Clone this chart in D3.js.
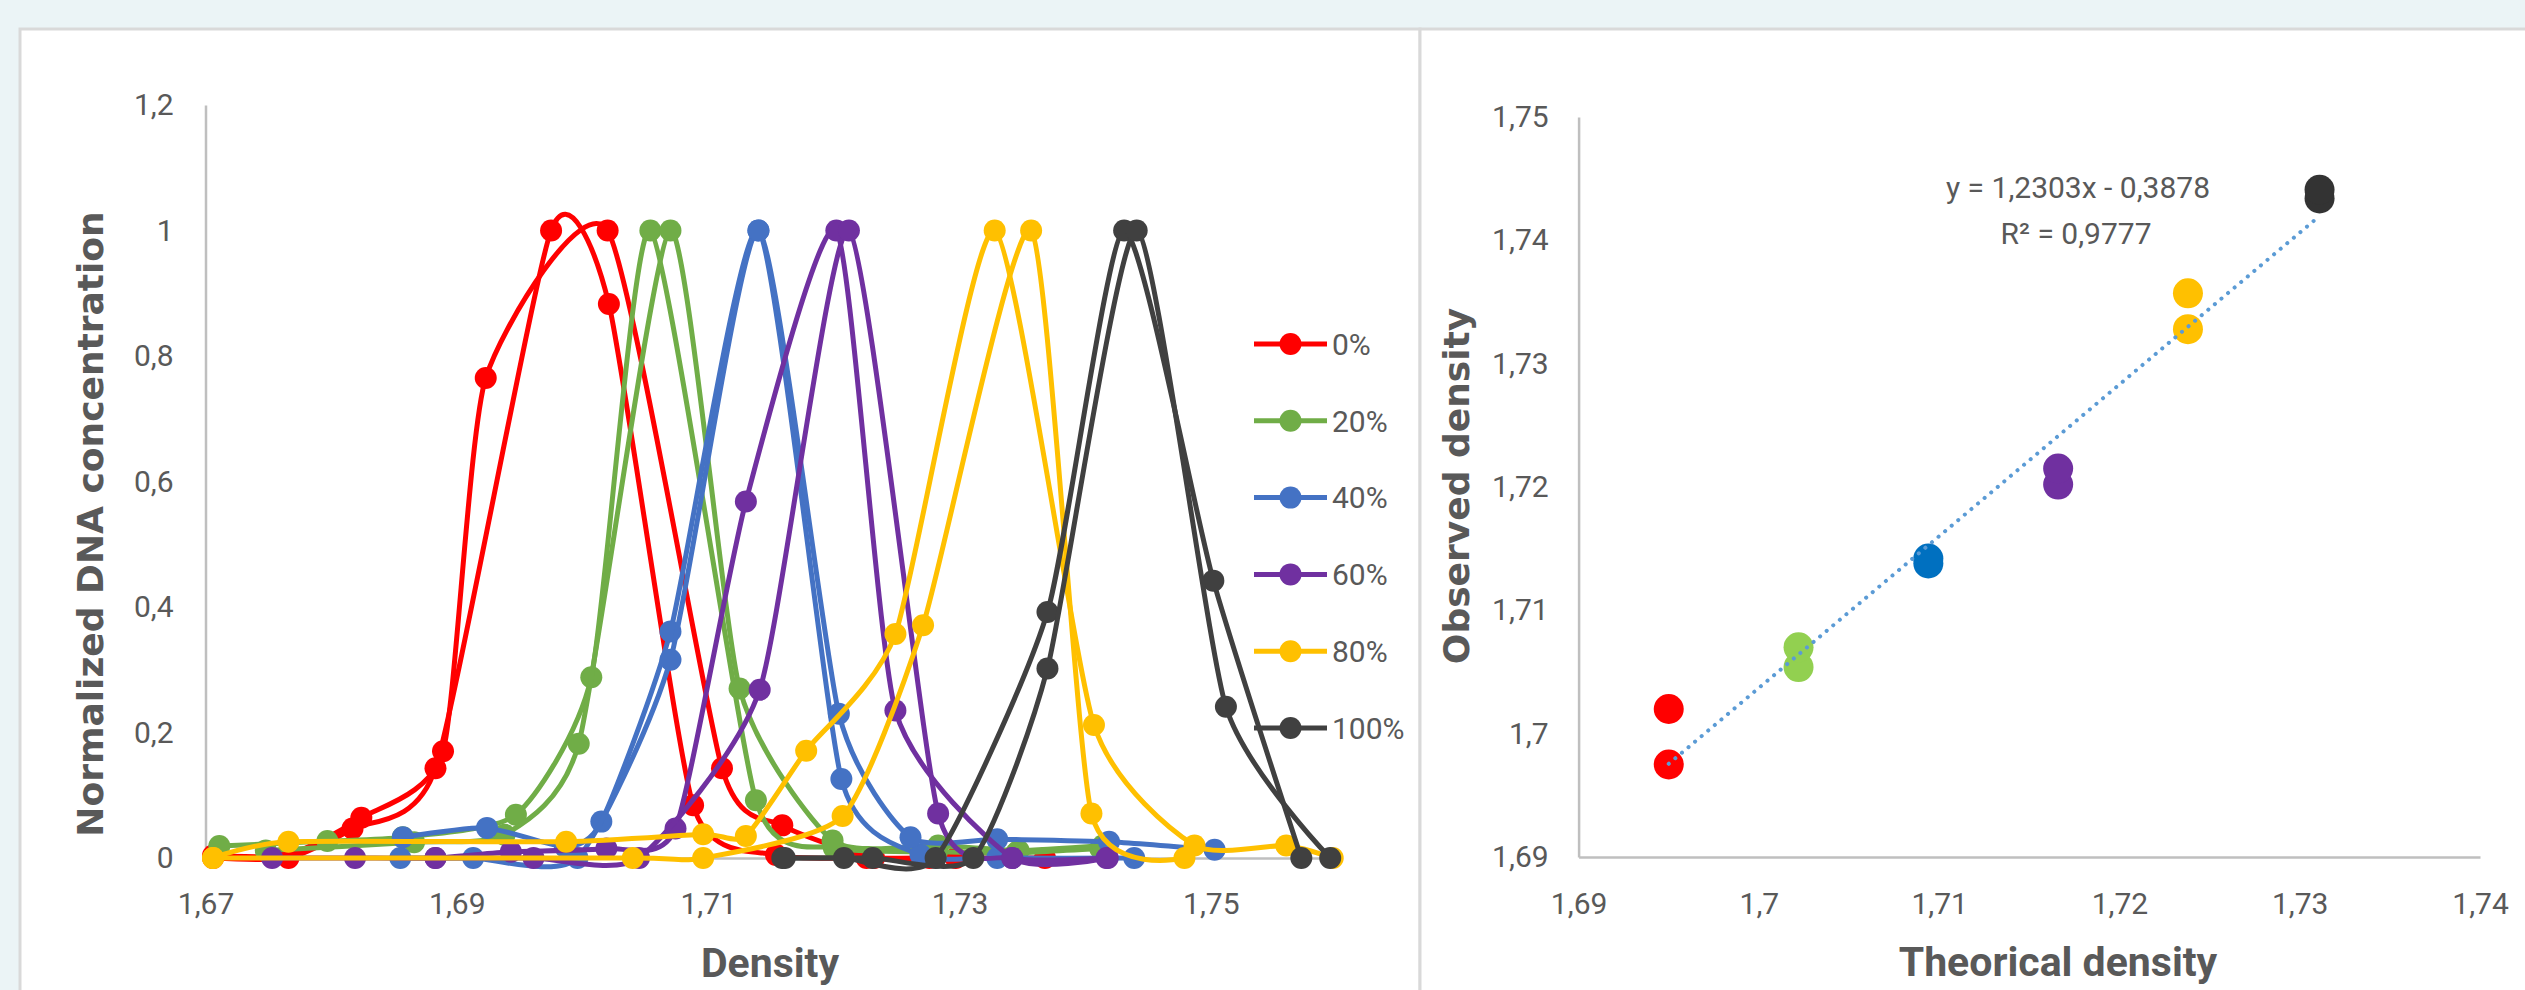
<!DOCTYPE html>
<html>
<head>
<meta charset="utf-8">
<script src="https://cdn.jsdelivr.net/npm/d3@7"></script>
<style>
  body { margin: 0; background: #ebf4f6; }
  svg { display: block; }
  .axis .tick text { fill: #595959; font-family: Roboto, "Liberation Sans", sans-serif; font-size: 30px; }
  .axis .domain { stroke: #bfbfbf; stroke-width: 2.5px; }
  .label { fill: #595959; font-family: Roboto, "Liberation Sans", sans-serif; }
  .title-x { font-weight: bold; font-size: 41px; }
  .title-y { font-family: "DejaVu Sans", Verdana, sans-serif; font-weight: bold; font-size: 36px; }
</style>
</head>
<body>
<svg id="chart" width="2525" height="990"></svg>
<script>
// ---- values ----
const gcLabels = ["0%", "20%", "40%", "60%", "80%", "100%"];

// two replicate gradients per GC content: [density, normalized DNA concentration]
const gc0RepA = [[1.6706, 0.004], [1.6766, 0.005], [1.6824, 0.064], [1.6889, 0.170], [1.6923, 0.765], [1.7020, 1.000], [1.7111, 0.143], [1.7159, 0.052], [1.7232, 0.000], [1.7297, 0.000], [1.7368, 0.000]];
const gc0RepB = [[1.6706, 0.000], [1.6766, 0.000], [1.6817, 0.047], [1.6883, 0.143], [1.6975, 1.000], [1.7021, 0.883], [1.7088, 0.084], [1.7154, 0.005], [1.7226, 0.000], [1.7276, 0.000]];
const gc20RepA = [[1.6711, 0.019], [1.6797, 0.027], [1.6857, 0.033], [1.6947, 0.069], [1.7007, 0.288], [1.7054, 1.000], [1.7138, 0.092], [1.7200, 0.016], [1.7282, 0.010], [1.7345, 0.008], [1.7412, 0.015]];
const gc20RepB = [[1.6748, 0.012], [1.6866, 0.025], [1.6938, 0.037], [1.6997, 0.182], [1.7070, 1.000], [1.7125, 0.270], [1.7199, 0.028], [1.7283, 0.020], [1.7347, 0.012], [1.7414, 0.020]];
const gc40RepA = [[1.6857, 0.033], [1.6924, 0.048], [1.6986, 0.018], [1.7015, 0.058], [1.7070, 0.361], [1.7140, 1.000], [1.7206, 0.126], [1.7269, 0.005], [1.7330, 0.000], [1.7439, 0.000]];
const gc40RepB = [[1.6855, 0.000], [1.6913, 0.000], [1.6996, 0.000], [1.7070, 0.316], [1.7140, 1.000], [1.7204, 0.230], [1.7261, 0.033], [1.7330, 0.030], [1.7419, 0.026], [1.7503, 0.013]];
const gc60RepA = [[1.6753, 0.000], [1.6819, 0.000], [1.6883, 0.000], [1.6943, 0.010], [1.7019, 0.015], [1.7074, 0.047], [1.7130, 0.568], [1.7202, 1.000], [1.7249, 0.235], [1.7342, 0.000], [1.7418, 0.000]];
const gc60RepB = [[1.6883, 0.000], [1.6961, 0.000], [1.7045, 0.000], [1.7141, 0.268], [1.7212, 1.000], [1.7283, 0.071], [1.7342, 0.000], [1.7417, 0.000]];
const gc80RepA = [[1.6706, 0.000], [1.6766, 0.026], [1.6987, 0.026], [1.7096, 0.038], [1.7130, 0.035], [1.7178, 0.171], [1.7249, 0.357], [1.7328, 1.000], [1.7407, 0.212], [1.7487, 0.020], [1.7560, 0.020], [1.7597, 0.000]];
const gc80RepB = [[1.6706, 0.000], [1.7040, 0.000], [1.7096, 0.000], [1.7207, 0.067], [1.7271, 0.371], [1.7357, 1.000], [1.7405, 0.071], [1.7479, 0.000]];
const gc100RepA = [[1.7159, 0.000], [1.7208, 0.000], [1.7281, 0.000], [1.7370, 0.392], [1.7431, 1.000], [1.7502, 0.442], [1.7572, 0.000]];
const gc100RepB = [[1.7161, 0.000], [1.7231, 0.000], [1.7311, 0.000], [1.7370, 0.302], [1.7441, 1.000], [1.7512, 0.241], [1.7595, 0.000]];

const gradientRuns = [
  [gc0RepA, gc0RepB],
  [gc20RepA, gc20RepB],
  [gc40RepA, gc40RepB],
  [gc60RepA, gc60RepB],
  [gc80RepA, gc80RepB],
  [gc100RepA, gc100RepB]
];

const gradientTicksX = [1.67, 1.69, 1.71, 1.73, 1.75];
const gradientTicksY = [0, 0.2, 0.4, 0.6, 0.8, 1, 1.2];

// theoretical vs observed buoyant density (peak of each replicate)
const theoDensity = [1.6950, 1.7022, 1.7094, 1.7166, 1.7238, 1.7311];
const obsDensityA = [1.7020, 1.7054, 1.7138, 1.7202, 1.7328, 1.7434];
const obsDensityB = [1.6975, 1.7070, 1.7142, 1.7215, 1.7357, 1.7441];
const fitSlope = 1.2303;
const fitIntercept = -0.3878;
const fitR2 = 0.9777;

const scatterTicksX = [1.69, 1.70, 1.71, 1.72, 1.73, 1.74];
const scatterTicksY = [1.69, 1.70, 1.71, 1.72, 1.73, 1.74, 1.75];

// ---- styling ----
const curveColors = ["#ff0000", "#70ad47", "#4472c4", "#7030a0", "#ffc000", "#404040"];
const pointColors = ["#ff0000", "#92d050", "#0070c0", "#7030a0", "#ffc000", "#333333"];

// Excel "General" style with decimal comma
const fmt = v => String(+v.toFixed(4)).replace(".", ",");

const svg = d3.select("#chart");

// panel frames
svg.append("rect")
  .attr("x", 20).attr("y", 29)
  .attr("width", 1400).attr("height", 1000)
  .attr("fill", "#fff").attr("stroke", "#d9d9d9").attr("stroke-width", 3);
svg.append("rect")
  .attr("x", 1420).attr("y", 29)
  .attr("width", 1200).attr("height", 1000)
  .attr("fill", "#fff").attr("stroke", "#d9d9d9").attr("stroke-width", 3);

// ================= left: gradient profiles =================
const x1 = d3.scaleLinear().domain([1.67, 1.76]).range([205.5, 1336.5]);
const y1 = d3.scaleLinear().domain([0, 1.2]).range([858, 105]);

const left = svg.append("g");

left.append("g")
  .attr("class", "axis")
  .attr("transform", `translate(0,${y1(0)})`)
  .call(d3.axisBottom(x1).tickValues(gradientTicksX).tickFormat(fmt).tickSize(0).tickPadding(35));
left.append("g")
  .attr("class", "axis")
  .attr("transform", `translate(${x1(1.67)},0)`)
  .call(d3.axisLeft(y1).tickValues(gradientTicksY).tickFormat(fmt).tickSize(0).tickPadding(32));

// smoothed line, a softened cardinal spline like Excel's "smoothed line"
const smooth = d3.line()
  .x(d => x1(d[0]))
  .y(d => y1(d[1]))
  .curve(d3.curveCardinal.tension(0.4));

gradientRuns.forEach((runs, i) => {
  runs.forEach(run => {
    const g = left.append("g");
    g.append("path")
      .datum(run)
      .attr("d", smooth)
      .attr("fill", "none")
      .attr("stroke", curveColors[i])
      .attr("stroke-width", 5);
    g.selectAll("circle")
      .data(run)
      .join("circle")
      .attr("cx", d => x1(d[0]))
      .attr("cy", d => y1(d[1]))
      .attr("r", 11)
      .attr("fill", curveColors[i]);
  });
});

// legend
const legend = left.append("g")
  .selectAll("g")
  .data(gcLabels)
  .join("g")
  .attr("transform", (_, i) => `translate(1254,${344 + i * 76.8})`);
legend.append("line")
  .attr("x1", 0).attr("x2", 73)
  .attr("stroke", (_, i) => curveColors[i])
  .attr("stroke-width", 5);
legend.append("circle")
  .attr("cx", 36.5)
  .attr("r", 11)
  .attr("fill", (_, i) => curveColors[i]);
legend.append("text")
  .attr("class", "label")
  .attr("x", 78)
  .attr("dy", "0.36em")
  .attr("font-size", 30)
  .text(d => d);

left.append("text")
  .attr("class", "label title-x")
  .attr("x", 770).attr("y", 977)
  .attr("text-anchor", "middle")
  .text("Density");
left.append("text")
  .attr("class", "label title-y")
  .attr("transform", "translate(90,524) rotate(-90)")
  .attr("text-anchor", "middle")
  .attr("dy", "0.36em")
  .text("Normalized DNA concentration");

// ================= right: observed vs theoretical =================
const x2 = d3.scaleLinear().domain([1.69, 1.74]).range([1578.6, 2480]);
const y2 = d3.scaleLinear().domain([1.69, 1.75]).range([857, 117]);

const right = svg.append("g");

right.append("g")
  .attr("class", "axis")
  .attr("transform", `translate(0,${y2(1.69)})`)
  .call(d3.axisBottom(x2).tickValues(scatterTicksX).tickFormat(fmt).tickSize(0).tickPadding(36));
right.append("g")
  .attr("class", "axis")
  .attr("transform", `translate(${x2(1.69)},0)`)
  .call(d3.axisLeft(y2).tickValues(scatterTicksY).tickFormat(fmt).tickSize(0).tickPadding(30));

[obsDensityA, obsDensityB].forEach(obs => {
  right.append("g")
    .selectAll("circle")
    .data(theoDensity)
    .join("circle")
    .attr("cx", d => x2(d))
    .attr("cy", (_, i) => y2(obs[i]))
    .attr("r", 15)
    .attr("fill", (_, i) => pointColors[i]);
});

// linear trend line over the data range
const fitX = d3.extent(theoDensity);
right.append("path")
  .datum(fitX)
  .attr("d", d3.line().x(d => x2(d)).y(d => y2(fitSlope * d + fitIntercept)))
  .attr("fill", "none")
  .attr("stroke", "#5b9bd5")
  .attr("stroke-width", 4)
  .attr("stroke-linecap", "round")
  .attr("stroke-dasharray", "0.1 8.5");

right.append("text")
  .attr("class", "label")
  .attr("x", 2078).attr("y", 198)
  .attr("text-anchor", "middle")
  .attr("font-size", 30)
  .text(`y = ${fmt(fitSlope)}x - ${fmt(-fitIntercept)}`);
right.append("text")
  .attr("class", "label")
  .attr("x", 2076).attr("y", 244)
  .attr("text-anchor", "middle")
  .attr("font-size", 30)
  .text(`R² = ${fmt(fitR2)}`);

right.append("text")
  .attr("class", "label title-x")
  .attr("x", 2058).attr("y", 976)
  .attr("text-anchor", "middle")
  .text("Theorical density");
right.append("text")
  .attr("class", "label title-y")
  .attr("transform", "translate(1456,486) rotate(-90)")
  .attr("text-anchor", "middle")
  .attr("dy", "0.36em")
  .text("Observed density");
</script>
</body>
</html>
